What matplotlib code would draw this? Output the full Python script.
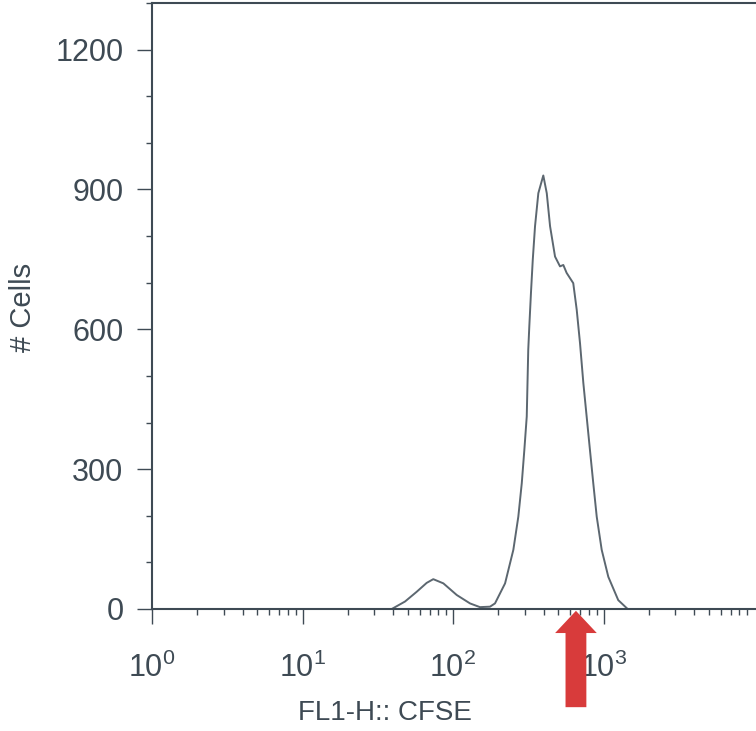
import matplotlib
matplotlib.use("Agg")
import matplotlib.pyplot as plt
import numpy as np
from matplotlib.ticker import LogLocator, LogFormatterSciNotation, MultipleLocator, FixedLocator

plt.rcParams['font.family'] = ['Liberation Sans', 'DejaVu Sans']
plt.rcParams['mathtext.fontset'] = 'custom'
plt.rcParams['mathtext.rm'] = 'Liberation Sans'
plt.rcParams['mathtext.it'] = 'Liberation Sans'
plt.rcParams['mathtext.default'] = 'regular'

# CFSE histogram (log10 of FL1-H, cell count)
log_fl1 = [1.593, 1.681, 1.759, 1.825, 1.869, 1.936, 2.025, 2.113, 2.179, 2.246,
           2.279, 2.346, 2.401, 2.434, 2.457, 2.474, 2.490, 2.500, 2.507, 2.518,
           2.530, 2.545, 2.567, 2.600, 2.623, 2.645, 2.678, 2.711, 2.733, 2.755,
           2.799, 2.822, 2.844, 2.866, 2.888, 2.910, 2.932, 2.955, 2.988, 3.032,
           3.098, 3.154]
cells = [0, 16, 37, 56, 64, 55, 30, 12, 4, 5,
         12, 55, 127, 198, 270, 341, 413, 556, 606, 678,
         749, 821, 892, 930, 892, 821, 756, 735, 738, 721,
         699, 642, 570, 485, 413, 341, 270, 198, 127, 69,
         19, 2]
x_ticks = [1, 10, 100, 1000]
arrow_x = 656  # FL1-H value marked by the arrow

ink = '#3e4a54'
line_col = '#5c6770'
arrow_col = '#d83b3b'

fig = plt.figure(figsize=(7.56, 7.31), dpi=100)
# the axis runs on past the right edge of the figure
decade_px = 150.5
x_max_log = 4.5
ax = fig.add_axes([152/756, 122/731, x_max_log*decade_px/756, 606/731])

x = 10 ** np.array(log_fl1)
ax.plot(x, cells, color=line_col, lw=1.4)

ax.set_xscale('log')
ax.set_xlim(1, 10 ** x_max_log)
ax.set_ylim(0, 1300)

ax.yaxis.set_major_locator(MultipleLocator(300))
ax.yaxis.set_minor_locator(MultipleLocator(100))
ax.xaxis.set_major_locator(FixedLocator(x_ticks))
ax.xaxis.set_minor_locator(LogLocator(base=10, subs=np.arange(2, 10)))
ax.xaxis.set_major_formatter(LogFormatterSciNotation())

for s in ax.spines.values():
    s.set_color(ink)
    s.set_linewidth(1.5)

ax.tick_params(axis='both', which='major', length=10.5, width=1.0, color=ink,
               labelcolor=ink, labelsize=22)
ax.tick_params(axis='both', which='minor', length=4, width=1.0, color=ink)
ax.tick_params(axis='y', which='major', pad=10)
ax.tick_params(axis='x', which='major', pad=21)

ax.set_xlabel('FL1-H:: CFSE', fontsize=20, color=ink)
ax.xaxis.set_label_coords(385/756, (731-700)/731, transform=fig.transFigure)
ax.set_ylabel('# Cells', fontsize=21, color=ink)
ax.yaxis.set_label_coords(37/756, (731-307)/731, transform=fig.transFigure)

ax.annotate('', xy=(arrow_x, -0.003), xycoords=('data', 'axes fraction'),
            xytext=(arrow_x, -0.162), textcoords=('data', 'axes fraction'),
            annotation_clip=False,
            arrowprops=dict(arrowstyle='simple,head_length=1.6,head_width=3.0,tail_width=1.5',
                            mutation_scale=10, color=arrow_col, lw=0,
                            shrinkA=0, shrinkB=0))

fig.savefig('out.png', dpi=100)
